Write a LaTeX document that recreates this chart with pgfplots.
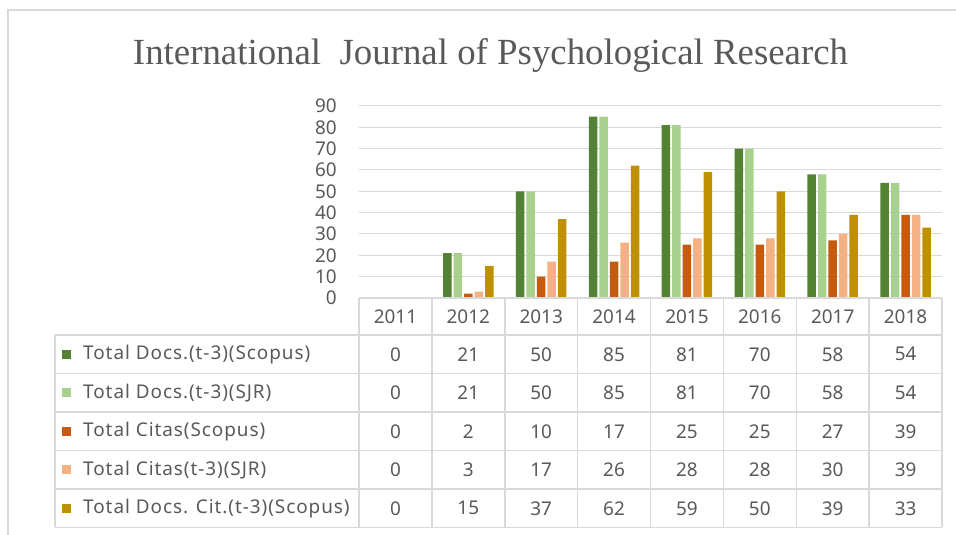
\documentclass[border=0pt]{standalone}
\usepackage{pgfplots}
\pgfplotsset{compat=1.18}
\usepackage{pgfplotstable}
\usepackage{graphicx}
\usepackage{fontspec}
\setmainfont{Noto Sans}
\newfontfamily\titlefont{Liberation Serif}
\newfontfamily\legfont{Noto Sans}[LetterSpace=5]
\definecolor{dkgreen}{HTML}{548235}
\definecolor{ltgreen}{HTML}{A9D18E}
\definecolor{orng}{HTML}{C55A11}
\definecolor{peach}{HTML}{F4B183}
\definecolor{gold}{HTML}{BF9000}
\definecolor{txtgrey}{HTML}{595959}
\definecolor{gridgrey}{HTML}{D9D9D9}
\pgfplotstableread{
x A B C D E
0 0 0 0 0 0
1 21 21 2 3 15
2 50 50 10 17 37
3 85 85 17 26 62
4 81 81 25 28 59
5 70 70 25 28 50
6 58 58 27 30 39
7 54 54 39 39 33
}\data
\begin{document}
\begin{tikzpicture}[x=1bp,y=1bp]
\path[use as bounding box] (0,0) rectangle (956,535);
% outer frame
\draw[gridgrey, line width=1.5bp] (8,0) -- (8,525) -- (956,525);
% title
\node[anchor=base, text=txtgrey, inner sep=0pt] at (490.5,470)
  {\resizebox{715bp}{\height}{\titlefont\fontsize{37}{40}\selectfont International\ \ Journal of Psychological Research}};
\begin{axis}[
  at={(359bp,237bp)}, anchor=south west,
  width=583bp, height=192bp, scale only axis,
  xmin=-0.5, xmax=7.5, ymin=0, ymax=90,
  ytick={0,10,...,90},
  xtick={0,...,7},
  xticklabels={2011,2012,2013,2014,2015,2016,2017,2018},
  /pgf/number format/assume math mode=true,
  major tick length=0pt,
  axis line style={draw=none},
  tick style={draw=none},
  ymajorgrids,
  grid style={color=gridgrey, line width=1bp},
  clip=false,
  tick label style={font=\fontsize{19}{22}\selectfont, text=txtgrey},
  yticklabel style={anchor=east, inner sep=0pt, xshift=-22bp},
  xticklabel style={anchor=center, inner sep=0pt, yshift=-19bp},
  every node near coord/.append style={anchor=center, inner sep=0pt, font=\fontsize{19}{22}\selectfont, text=txtgrey},
]
\addplot[ybar, bar width=8.5bp, bar shift=-21bp, fill=dkgreen, draw=none] table[x=x,y=A]{\data};
\addplot[ybar, bar width=8.5bp, bar shift=-10.5bp, fill=ltgreen, draw=none] table[x=x,y=B]{\data};
\addplot[ybar, bar width=8.5bp, bar shift=0bp, fill=orng, draw=none] table[x=x,y=C]{\data};
\addplot[ybar, bar width=8.5bp, bar shift=10.5bp, fill=peach, draw=none] table[x=x,y=D]{\data};
\addplot[ybar, bar width=8.5bp, bar shift=21bp, fill=gold, draw=none] table[x=x,y=E]{\data};
% data table values
\addplot[draw=none, mark=none, nodes near coords, point meta=explicit,
  every node near coord/.append style={yshift=-56.25bp}] table[x=x, y expr=0, meta=A]{\data};
\addplot[draw=none, mark=none, nodes near coords, point meta=explicit,
  every node near coord/.append style={yshift=-94.75bp}] table[x=x, y expr=0, meta=B]{\data};
\addplot[draw=none, mark=none, nodes near coords, point meta=explicit,
  every node near coord/.append style={yshift=-133.25bp}] table[x=x, y expr=0, meta=C]{\data};
\addplot[draw=none, mark=none, nodes near coords, point meta=explicit,
  every node near coord/.append style={yshift=-171.75bp}] table[x=x, y expr=0, meta=D]{\data};
\addplot[draw=none, mark=none, nodes near coords, point meta=explicit,
  every node near coord/.append style={yshift=-210.25bp}] table[x=x, y expr=0, meta=E]{\data};
\end{axis}
% table grid
\begin{scope}[gridgrey, line width=1.5bp]
\draw (359,237) -- (942,237);
\foreach \yy in {200,161.5,123,84.5,46,7.5} {\draw (55,\yy) -- (942,\yy);}
\draw (55,200) -- (55,7.5);
\foreach \xx in {359,431.9,504.8,577.6,650.5,723.4,796.3,869.1,942} {\draw (\xx,237) -- (\xx,7.5);}
\end{scope}
% legend column
\foreach \yy/\cc/\tt in {180.75/dkgreen/{Total Docs.(t-3)(Scopus)},
                        142.25/ltgreen/{Total Docs.(t-3)(SJR)},
                        103.75/orng/{Total Citas(Scopus)},
                        65.25/peach/{Total Citas(t-3)(SJR)},
                        26.75/gold/{Total Docs. Cit.(t-3)(Scopus)}} {
  \fill[\cc] (62,\yy-4.5) rectangle (71,\yy+4.5);
  \node[anchor=west, inner sep=0pt, text=txtgrey, font=\legfont\fontsize{19}{22}\selectfont] at (83,\yy) {\tt};
}
\end{tikzpicture}
\end{document}
